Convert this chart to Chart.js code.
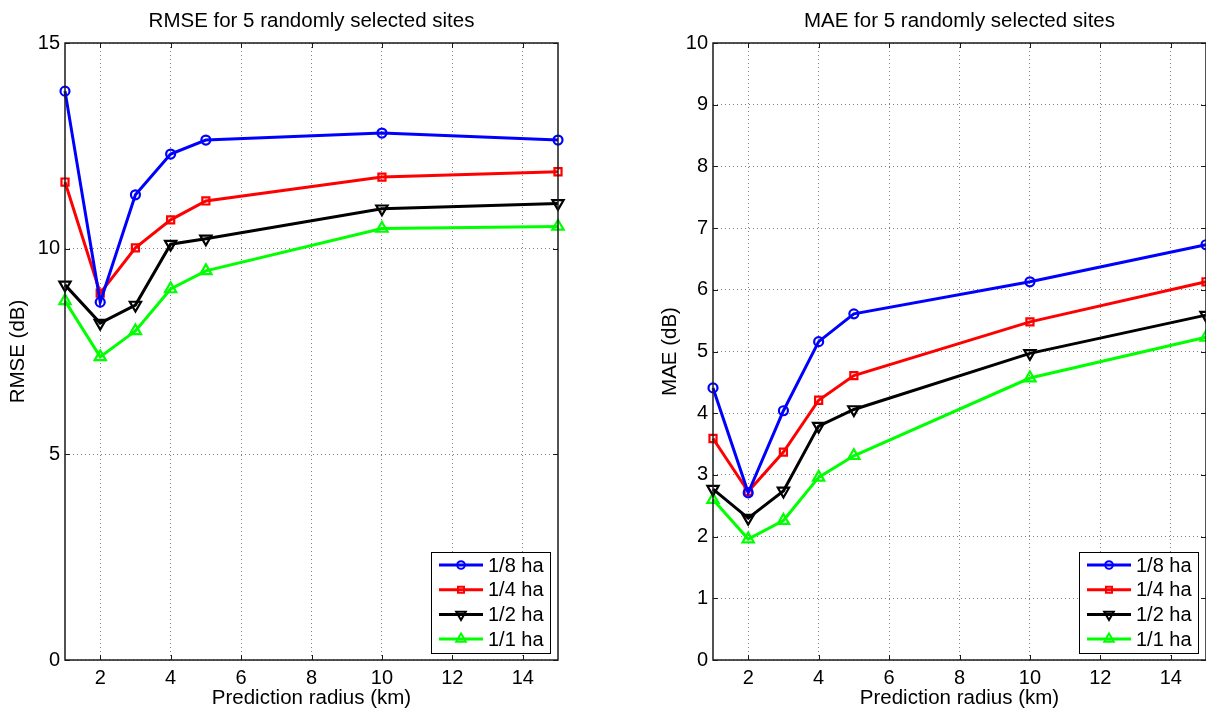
<!DOCTYPE html>
<html>
<head>
<meta charset="utf-8">
<script src="https://cdn.jsdelivr.net/npm/chart.js"></script>
<style>
html, body { margin: 0; padding: 0; background: #fff; overflow: hidden; width: 1206px; height: 710px; }
canvas { position: absolute; top: 0; }
#rmseCanvas { left: 0; }
#maeCanvas { left: 648px; }
</style>
</head>
<body>
<canvas id="rmseCanvas" width="603" height="710"></canvas>
<canvas id="maeCanvas" width="603" height="710"></canvas>
<script>
// prediction radius (km)
var radius = [1, 2, 3, 4, 5, 10, 15];
var seriesNames = ['1/8 ha', '1/4 ha', '1/2 ha', '1/1 ha'];

// RMSE (dB)
var rmse8 = [13.83, 8.70, 11.31, 12.30, 12.64, 12.81, 12.64];
var rmse4 = [11.62, 8.92, 10.02, 10.70, 11.16, 11.74, 11.87];
var rmse2 = [9.12, 8.19, 8.63, 10.11, 10.24, 10.97, 11.10];
var rmse1 = [8.73, 7.37, 8.00, 9.02, 9.46, 10.49, 10.54];

// MAE (dB)
var mae8 = [4.41, 2.71, 4.04, 5.16, 5.61, 6.13, 6.73];
var mae4 = [3.59, 2.73, 3.37, 4.21, 4.61, 5.48, 6.13];
var mae2 = [2.77, 2.30, 2.74, 3.79, 4.06, 4.97, 5.59];
var mae1 = [2.60, 1.96, 2.26, 2.96, 3.31, 4.57, 5.23];

var xTicks = [2, 4, 6, 8, 10, 12, 14];
var rmseTicks = [0, 5, 10, 15];
var maeTicks = [0, 1, 2, 3, 4, 5, 6, 7, 8, 9, 10];

var FONT = '"Liberation Sans", Arial, Helvetica, sans-serif';
Chart.defaults.font.family = FONT;
Chart.defaults.font.size = 20;
Chart.defaults.color = '#000';

var styles = [
    { color: '#0000ff', pointStyle: 'circle', radius: 4.5, rotation: 0 },
    { color: '#ff0000', pointStyle: 'rect', radius: 5, rotation: 0 },
    { color: '#000000', pointStyle: 'triangle', radius: 6.5, rotation: 180 },
    { color: '#00ff00', pointStyle: 'triangle', radius: 6.5, rotation: 0 }
];

function makeSet(i, values) {
    var pts = [];
    for (var k = 0; k < radius.length; k++) {
        pts.push({ x: radius[k], y: values[k] });
    }
    var s = styles[i];
    return {
        label: seriesNames[i],
        data: pts,
        borderColor: s.color,
        borderWidth: 3,
        pointStyle: s.pointStyle,
        pointRadius: s.radius,
        pointRotation: s.rotation,
        pointBorderWidth: 2.2,
        pointBorderColor: s.color,
        pointBackgroundColor: 'rgba(0,0,0,0)',
        showLine: true,
        tension: 0,
        clip: false
    };
}

// frame, inward ticks, title and legend drawn the matlab way
var matlabAxes = {
    id: 'matlabAxes',
    afterDatasetsDraw: function (chart, args, opts) {
        var ctx = chart.ctx, a = chart.chartArea;
        var xs = chart.scales.x, ys = chart.scales.y;
        ctx.save();
        ctx.strokeStyle = '#1a1a1a';
        ctx.lineWidth = 1;
        xs.ticks.forEach(function (t) {
            var px = Math.round(xs.getPixelForValue(t.value)) + 0.5;
            ctx.beginPath();
            ctx.moveTo(px, a.bottom); ctx.lineTo(px, a.bottom - 5);
            ctx.moveTo(px, a.top); ctx.lineTo(px, a.top + 5);
            ctx.stroke();
        });
        ys.ticks.forEach(function (t) {
            var py = Math.round(ys.getPixelForValue(t.value)) + 0.5;
            ctx.beginPath();
            ctx.moveTo(a.left, py); ctx.lineTo(a.left + 5, py);
            ctx.moveTo(a.right, py); ctx.lineTo(a.right - 5, py);
            ctx.stroke();
        });
        ctx.lineWidth = 1.5;
        ctx.strokeRect(a.left, a.top, a.right - a.left, a.bottom - a.top);

        ctx.fillStyle = '#000';
        ctx.font = '20.5px ' + FONT;
        ctx.textAlign = 'center';
        ctx.textBaseline = 'middle';
        ctx.fillText(opts.title, (a.left + a.right) / 2, a.top - 22);

        // legend box
        var bw = 119, bh = 101;
        var bx = a.right - 8 - bw, by = a.bottom - 7 - bh;
        ctx.fillStyle = '#fff';
        ctx.fillRect(bx, by, bw, bh);
        ctx.strokeStyle = '#000';
        ctx.lineWidth = 1;
        ctx.strokeRect(bx + 0.5, by + 0.5, bw, bh);
        ctx.font = '20px ' + FONT;
        chart.data.datasets.forEach(function (ds, i) {
            var ry = by + 13 + i * 24.7;
            ctx.strokeStyle = ds.borderColor;
            ctx.lineWidth = 3;
            ctx.beginPath();
            ctx.moveTo(bx + 8, ry); ctx.lineTo(bx + 52, ry);
            ctx.stroke();
            ctx.lineWidth = 2;
            ctx.fillStyle = 'rgba(0,0,0,0)';
            Chart.helpers.drawPoint(ctx, {
                pointStyle: ds.pointStyle,
                radius: ds.pointRadius * 0.85,
                rotation: ds.pointRotation,
                borderWidth: 2
            }, bx + 30, ry);
            ctx.fillStyle = '#000';
            ctx.textAlign = 'left';
            ctx.textBaseline = 'middle';
            ctx.fillText(ds.label, bx + 57, ry + 1);
        });
        ctx.restore();
    }
};

function makeChart(id, title, yLabel, yTicks, yMax, labelPad, sets) {
    return new Chart(document.getElementById(id), {
        type: 'scatter',
        data: { datasets: sets },
        plugins: [matlabAxes],
        options: {
            responsive: false,
            animation: false,
            layout: { padding: { left: 0, top: 43, right: 45, bottom: 0 } },
            plugins: {
                legend: { display: false },
                tooltip: { enabled: false },
                matlabAxes: { title: title }
            },
            scales: {
                x: {
                    type: 'linear',
                    min: 1,
                    max: 15,
                    afterBuildTicks: function (axis) {
                        axis.ticks = xTicks.map(function (v) { return { value: v }; });
                    },
                    afterFit: function (axis) { axis.height = 50; },
                    ticks: { padding: 6, maxRotation: 0, font: { size: 20 } },
                    grid: { drawTicks: false, color: 'rgba(0,0,0,0.5)', lineWidth: 1 },
                    border: { display: false, dash: [1, 3] },
                    title: {
                        display: true,
                        text: 'Prediction radius (km)',
                        font: { size: 20.5 },
                        padding: { top: 0, bottom: -1 }
                    }
                },
                y: {
                    type: 'linear',
                    min: 0,
                    max: yMax,
                    afterBuildTicks: function (axis) {
                        axis.ticks = yTicks.map(function (v) { return { value: v }; });
                    },
                    afterFit: function (axis) { axis.width = 65; },
                    ticks: { padding: 5, font: { size: 20 } },
                    grid: { drawTicks: false, color: 'rgba(0,0,0,0.5)', lineWidth: 1 },
                    border: { display: false, dash: [1, 3] },
                    title: {
                        display: true,
                        text: yLabel,
                        font: { size: 20.5 },
                        padding: { top: labelPad, bottom: 0 }
                    }
                }
            }
        }
    });
}

makeChart('rmseCanvas', 'RMSE for 5 randomly selected sites', 'RMSE (dB)', rmseTicks, 15, 6, [
    makeSet(0, rmse8), makeSet(1, rmse4), makeSet(2, rmse2), makeSet(3, rmse1)
]);
makeChart('maeCanvas', 'MAE for 5 randomly selected sites', 'MAE (dB)', maeTicks, 10, 10, [
    makeSet(0, mae8), makeSet(1, mae4), makeSet(2, mae2), makeSet(3, mae1)
]);
</script>
</body>
</html>
